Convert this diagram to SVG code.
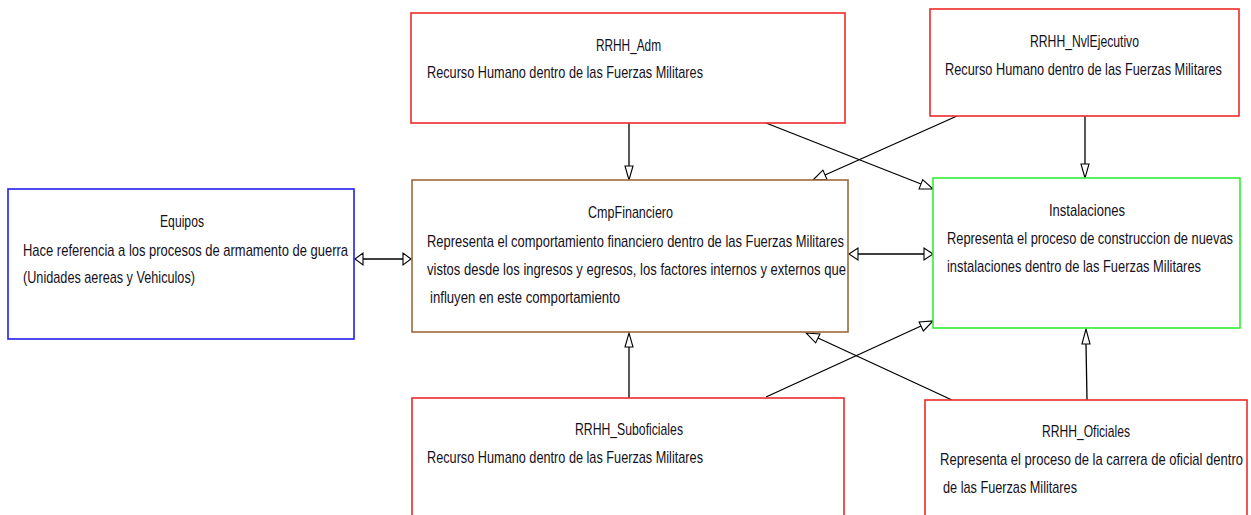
<svg xmlns="http://www.w3.org/2000/svg" width="1251" height="515" viewBox="0 0 1251 515">
  <style>
    .box { fill: #ffffff; stroke-width: 1.6; }
    .red { stroke: #ee2a2a; }
    .blue { stroke: #2020e8; }
    .brown { stroke: #9c6a3a; }
    .green { stroke: #33ee33; }
    text { font-family: "Liberation Sans", Arial, sans-serif; font-size: 17px; fill: #14101c; }
    .title { text-anchor: middle; }
    .link { stroke: #000000; stroke-width: 1.3; fill: none; }
    .head { fill: #ffffff; stroke: #000000; stroke-width: 1.1; stroke-linejoin: miter; }
  </style>
  <rect width="1251" height="515" fill="#ffffff"/>

  <g id="connectors">
    <!-- RRHH_Adm -> CmpFinanciero -->
    <line class="link" x1="629" y1="123" x2="629" y2="166"/>
    <polygon class="head" points="629,180 625,166 633,166"/>
    <!-- RRHH_Adm -> Instalaciones -->
    <line class="link" x1="766" y1="123" x2="921" y2="184"/>
    <polygon class="head" points="933,189 919.1,188.9 922.7,179.6"/>
    <!-- RRHH_NvlEjecutivo -> CmpFinanciero -->
    <line class="link" x1="957" y1="116" x2="825" y2="175"/>
    <polygon class="head" points="813,180 822.9,170.1 826.9,179.3"/>
    <!-- RRHH_NvlEjecutivo -> Instalaciones -->
    <line class="link" x1="1085" y1="116" x2="1085" y2="164"/>
    <polygon class="head" points="1085,178 1081,164 1089,164"/>
    <!-- Equipos <-> CmpFinanciero -->
    <line class="link" x1="363" y1="259" x2="403" y2="259"/>
    <polygon class="head" points="355,259 363,253 363,265"/>
    <polygon class="head" points="411,259 403,253 403,265"/>
    <!-- CmpFinanciero <-> Instalaciones -->
    <line class="link" x1="858" y1="254" x2="924" y2="254"/>
    <polygon class="head" points="849,254 858,248 858,260"/>
    <polygon class="head" points="933,254 924,248 924,260"/>
    <!-- RRHH_Suboficiales -> CmpFinanciero -->
    <line class="link" x1="629" y1="398" x2="629" y2="347"/>
    <polygon class="head" points="629,333 625,347 633,347"/>
    <!-- RRHH_Suboficiales -> Instalaciones -->
    <line class="link" x1="766" y1="397" x2="921" y2="326"/>
    <polygon class="head" points="933,321 923.3,331 919.1,321.9"/>
    <!-- RRHH_Oficiales -> CmpFinanciero -->
    <line class="link" x1="952" y1="400" x2="818" y2="338"/>
    <polygon class="head" points="806,333 819.9,333.9 815.7,342.9"/>
    <!-- RRHH_Oficiales -> Instalaciones -->
    <line class="link" x1="1087" y1="400" x2="1086" y2="344"/>
    <polygon class="head" points="1086,329 1082,344 1090,344"/>
  </g>

  <!-- node labels use a narrow face: text is drawn in a 0.75 horizontal scale -->
  <g id="RRHH_Adm">
    <rect class="box red" x="411" y="13" width="434" height="110"/>
    <g transform="scale(0.75 1)">
      <text class="title" x="838" y="51" textLength="86.67" lengthAdjust="spacingAndGlyphs">RRHH_Adm</text>
      <text x="569.33" y="78" textLength="368" lengthAdjust="spacingAndGlyphs">Recurso Humano dentro de las Fuerzas Militares</text>
    </g>
  </g>

  <g id="RRHH_NvlEjecutivo">
    <rect class="box red" x="930" y="9" width="309" height="107"/>
    <g transform="scale(0.75 1)">
      <text class="title" x="1446" y="47" textLength="145.33" lengthAdjust="spacingAndGlyphs">RRHH_NvlEjecutivo</text>
      <text x="1260" y="75" textLength="369.33" lengthAdjust="spacingAndGlyphs">Recurso Humano dentro de las Fuerzas Militares</text>
    </g>
  </g>

  <g id="Equipos">
    <rect class="box blue" x="8" y="189" width="346" height="150"/>
    <g transform="scale(0.75 1)">
      <text class="title" x="242.67" y="227" textLength="58.67" lengthAdjust="spacingAndGlyphs">Equipos</text>
      <text x="30.67" y="256" textLength="433.33" lengthAdjust="spacingAndGlyphs">Hace referencia a los procesos de armamento de guerra</text>
      <text x="30.67" y="283" textLength="229.33" lengthAdjust="spacingAndGlyphs">(Unidades aereas y Vehiculos)</text>
    </g>
  </g>

  <g id="CmpFinanciero">
    <rect class="box brown" x="412" y="180" width="436" height="152"/>
    <g transform="scale(0.75 1)">
      <text class="title" x="840.67" y="218" textLength="113.33" lengthAdjust="spacingAndGlyphs">CmpFinanciero</text>
      <text x="569.33" y="247" textLength="556" lengthAdjust="spacingAndGlyphs">Representa el comportamiento financiero dentro de las Fuerzas Militares</text>
      <text x="569.33" y="275" textLength="558.67" lengthAdjust="spacingAndGlyphs">vistos desde los ingresos y egresos, los factores internos y externos que</text>
      <text x="573.33" y="303" textLength="253.33" lengthAdjust="spacingAndGlyphs">influyen en este comportamiento</text>
    </g>
  </g>

  <g id="Instalaciones">
    <rect class="box green" x="933" y="178" width="307" height="150"/>
    <g transform="scale(0.75 1)">
      <text class="title" x="1449.33" y="216" textLength="101.33" lengthAdjust="spacingAndGlyphs">Instalaciones</text>
      <text x="1262.67" y="244" textLength="381.33" lengthAdjust="spacingAndGlyphs">Representa el proceso de construccion de nuevas</text>
      <text x="1262.67" y="272" textLength="338.67" lengthAdjust="spacingAndGlyphs">instalaciones dentro de las Fuerzas Militares</text>
    </g>
  </g>

  <g id="RRHH_Suboficiales">
    <rect class="box red" x="412" y="398" width="432" height="140"/>
    <g transform="scale(0.75 1)">
      <text class="title" x="838.67" y="435" textLength="144" lengthAdjust="spacingAndGlyphs">RRHH_Suboficiales</text>
      <text x="569.33" y="463" textLength="368" lengthAdjust="spacingAndGlyphs">Recurso Humano dentro de las Fuerzas Militares</text>
    </g>
  </g>

  <g id="RRHH_Oficiales">
    <rect class="box red" x="925" y="400" width="322" height="140"/>
    <g transform="scale(0.75 1)">
      <text class="title" x="1448" y="437" textLength="117.33" lengthAdjust="spacingAndGlyphs">RRHH_Oficiales</text>
      <text x="1253.33" y="465" textLength="404" lengthAdjust="spacingAndGlyphs">Representa el proceso de la carrera de oficial dentro</text>
      <text x="1257.33" y="493" textLength="178.67" lengthAdjust="spacingAndGlyphs">de las Fuerzas Militares</text>
    </g>
  </g>
</svg>
